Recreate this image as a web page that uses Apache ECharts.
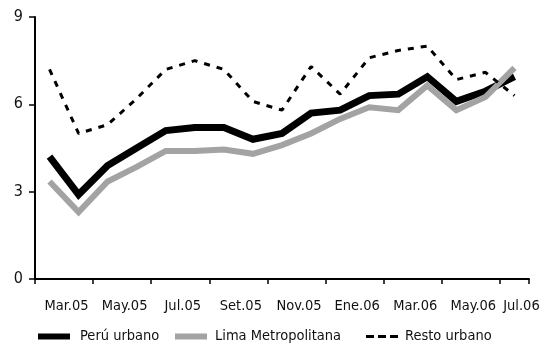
<!DOCTYPE html>
<html>
<head>
<meta charset="utf-8">
<script src="https://cdn.jsdelivr.net/npm/echarts@6/dist/echarts.min.js"></script>
<style>
html,body{margin:0;padding:0;background:#fff;}
#c{width:544px;height:345px;}
</style>
</head>
<body>
<div id="c"></div>
<script>
const months = ['Mar.05','Abr.05','May.05','Jun.05','Jul.05','Ago.05','Set.05','Oct.05','Nov.05','Dic.05','Ene.06','Feb.06','Mar.06','Abr.06','May.06','Jun.06','Jul.06'];
const peruUrbano = [4.2, 2.9, 3.9, 4.5, 5.1, 5.2, 5.2, 4.8, 5.0, 5.7, 5.8, 6.3, 6.35, 6.95, 6.1, 6.45, 6.95];
const limaMetropolitana = [3.35, 2.3, 3.35, 3.85, 4.4, 4.4, 4.45, 4.3, 4.6, 5.0, 5.5, 5.9, 5.8, 6.65, 5.8, 6.25, 7.25];
const restoUrbano = [7.2, 5.0, 5.3, 6.2, 7.2, 7.5, 7.2, 6.1, 5.8, 7.3, 6.35, 7.6, 7.85, 8.0, 6.85, 7.1, 6.3];
const yTicks = [0, 3, 6, 9];
const seriesNames = ['Perú urbano', 'Lima Metropolitana', 'Resto urbano'];

const FONT = '"DejaVu Sans Condensed", "Liberation Sans Narrow", sans-serif';
const chart = echarts.init(document.getElementById('c'), null, {renderer: 'canvas'});

const legendBase = {
  orient: 'horizontal', top: 329, selectedMode: false, padding: 0,
  itemGap: 0
};

chart.setOption({
  animation: false,
  backgroundColor: '#ffffff',
  grid: {left: 35, right: 15, top: 17, bottom: 66, containLabel: false},
  legend: [
    Object.assign({}, legendBase, {
      left: 38, itemWidth: 32, itemHeight: 6,
      data: [{name: seriesNames[0], icon: 'rect', itemStyle: {color: '#000000', borderWidth: 0}}],
      textStyle: {fontFamily: FONT, fontSize: 14.5, color: '#111', padding: [0, 0, 0, 5]}
    }),
    Object.assign({}, legendBase, {
      left: 175, itemWidth: 32, itemHeight: 6,
      data: [{name: seriesNames[1], icon: 'rect', itemStyle: {color: '#a3a3a3', borderWidth: 0}}],
      textStyle: {fontFamily: FONT, fontSize: 14.5, color: '#111', padding: [0, 0, 0, 3]}
    }),
    Object.assign({}, legendBase, {
      left: 366, itemWidth: 32, itemHeight: 3,
      data: [{name: seriesNames[2], icon: 'path://M0,0h8v3h-8z M12,0h8v3h-8z M24,0h8v3h-8z', itemStyle: {color: '#000000', borderWidth: 0}}],
      textStyle: {fontFamily: FONT, fontSize: 14.5, color: '#111', padding: [0, 0, 0, 2]}
    })
  ],
  xAxis: {
    type: 'category',
    data: months,
    boundaryGap: true,
    axisLine: {show: true, lineStyle: {color: '#000', width: 2}},
    axisTick: {show: true, interval: 1, length: 5, alignWithLabel: false, lineStyle: {color: '#000', width: 1.5}},
    splitLine: {show: false},
    axisLabel: {
      interval: 0,
      margin: 20,
      fontFamily: FONT, fontSize: 14.5, color: '#111',
      formatter: function (v, i) {
        if (i % 2 !== 0) return '';
        if (i === months.length - 1) return '{e|' + v + '}';
        return '{m|' + v + '}';
      },
      rich: {
        m: {fontFamily: FONT, fontSize: 14.5, color: '#111', padding: [0, 0, 0, 34]},
        e: {fontFamily: FONT, fontSize: 14.5, color: '#111', padding: [0, 0, 0, 14]}
      }
    }
  },
  yAxis: {
    type: 'value',
    min: yTicks[0], max: yTicks[yTicks.length - 1], interval: 3,
    axisLine: {show: true, lineStyle: {color: '#000', width: 2}},
    axisTick: {show: true, length: 6, lineStyle: {color: '#000', width: 1.5}},
    splitLine: {show: false},
    axisLabel: {margin: 12, fontFamily: FONT, fontSize: 16, color: '#111'}
  },
  series: [
    {
      name: seriesNames[0], type: 'line', data: peruUrbano,
      symbol: 'none', showSymbol: false,
      lineStyle: {color: '#000000', width: 7, join: 'miter', cap: 'butt'},
      itemStyle: {color: '#000000'}, z: 2
    },
    {
      name: seriesNames[1], type: 'line', data: limaMetropolitana,
      symbol: 'none', showSymbol: false,
      lineStyle: {color: '#a3a3a3', width: 6, join: 'miter', cap: 'butt'},
      itemStyle: {color: '#a3a3a3'}, z: 3
    },
    {
      name: seriesNames[2], type: 'line', data: restoUrbano,
      symbol: 'none', showSymbol: false,
      lineStyle: {color: '#000000', width: 3, type: [6, 7], cap: 'butt'},
      itemStyle: {color: '#000000'}, z: 4
    }
  ]
});
</script>
</body>
</html>
